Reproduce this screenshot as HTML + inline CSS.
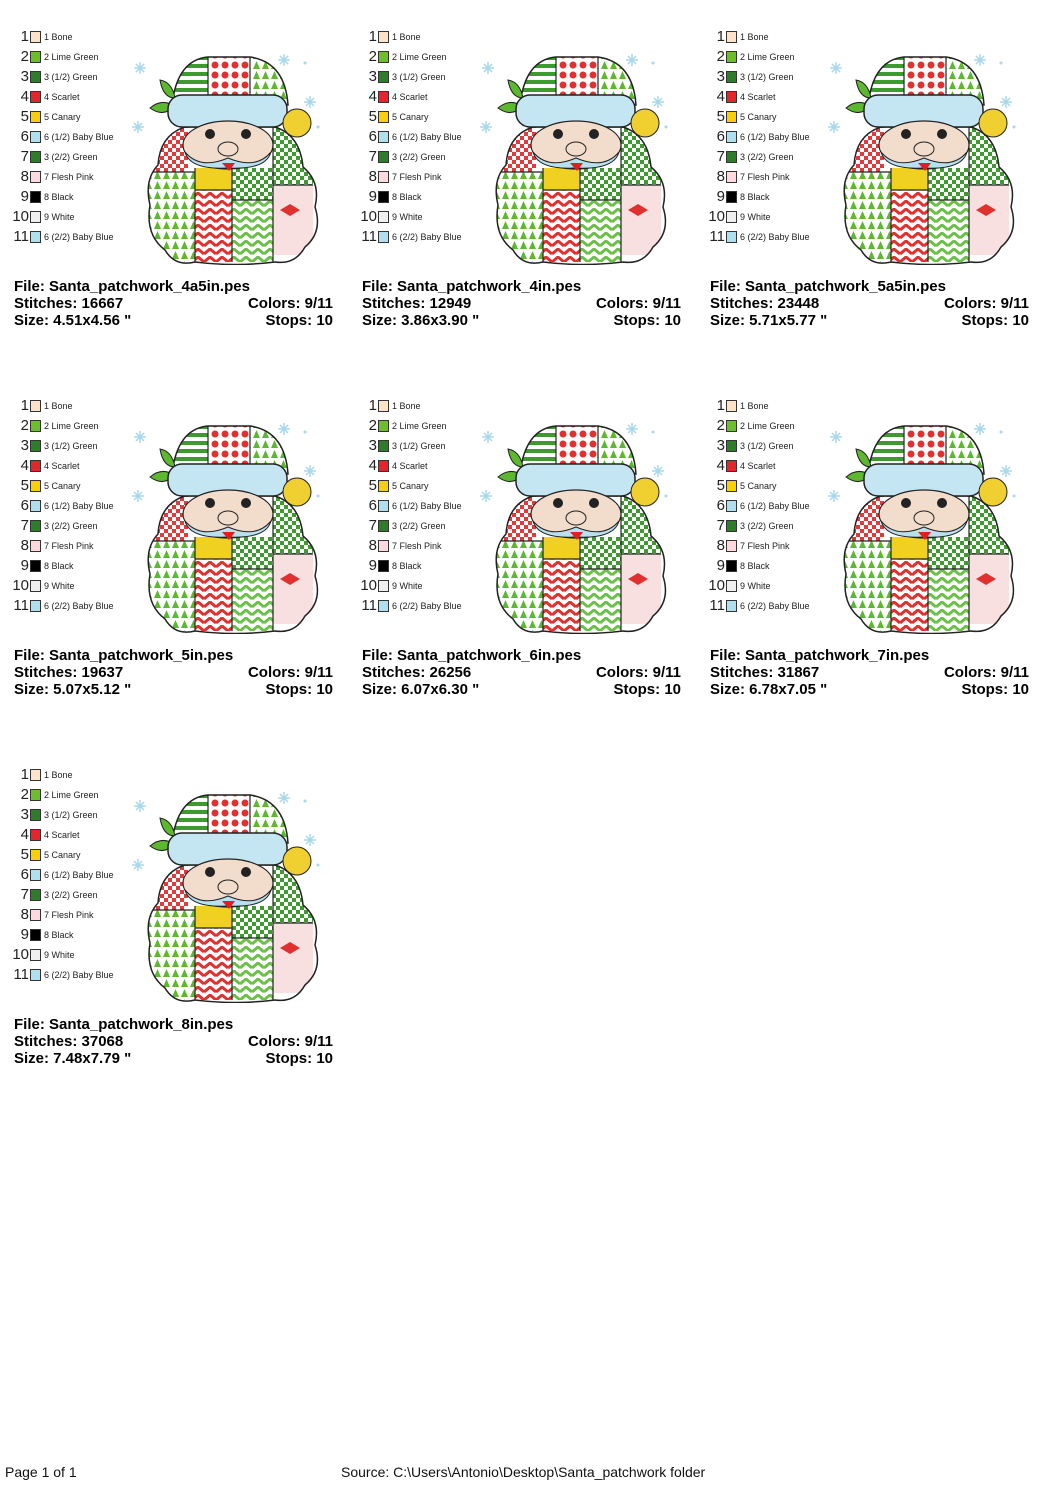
<!DOCTYPE html>
<html><head><meta charset="utf-8">
<style>
html,body{margin:0;padding:0;background:#fff;}
body{width:1050px;height:1485px;position:relative;overflow:hidden;font-family:"Liberation Sans",Arial,sans-serif;}
.blk{position:absolute;width:348px;height:369px;overflow:hidden;}
.row{position:absolute;left:0;width:200px;height:14px;}
.row .n{position:absolute;left:0;top:-3px;width:29px;font-size:15px;color:#222;line-height:20px;text-align:right;}
.row .sw{position:absolute;left:30px;top:1px;width:11px;height:12px;border:1px solid #333;box-sizing:border-box;}
.row .t{position:absolute;left:44px;top:2px;font-size:9px;color:#222;white-space:nowrap;line-height:10px;}
.info{position:absolute;left:14px;width:319px;font-weight:bold;font-size:15px;color:#000;line-height:17px;}
.info .r{position:absolute;right:0;top:0;}
.santa{position:absolute;left:125px;top:25px;}
.foot{position:absolute;top:1464px;font-size:14px;color:#111;}
</style></head><body>
<svg width="0" height="0" style="position:absolute">
<defs>
<pattern id="pc" width="8" height="8" patternUnits="userSpaceOnUse"><rect width="8" height="8" fill="#e23a3a"/><rect width="4" height="4" fill="#fff"/><rect x="4" y="4" width="4" height="4" fill="#fff"/></pattern>
<pattern id="gc" width="8" height="8" patternUnits="userSpaceOnUse"><rect width="8" height="8" fill="#3d9b2e"/><rect width="4" height="4" fill="#fff"/><rect x="4" y="4" width="4" height="4" fill="#fff"/></pattern>
<pattern id="gs" width="8" height="8" patternUnits="userSpaceOnUse"><rect width="8" height="8" fill="#fff"/><rect width="8" height="4" fill="#3d9b2e"/></pattern>
<pattern id="rd" width="10" height="10" patternUnits="userSpaceOnUse"><rect width="10" height="10" fill="#fff"/><circle cx="5" cy="5" r="3.5" fill="#e23030"/></pattern>
<pattern id="gt" width="9" height="10" patternUnits="userSpaceOnUse"><rect width="9" height="10" fill="#fff"/><path d="M4.5 1L8 9H1Z" fill="#5cb82e"/></pattern>
<pattern id="rz" width="12" height="8" patternUnits="userSpaceOnUse"><rect width="12" height="8" fill="#fff"/><path d="M0 6L6 1L12 6" stroke="#e03030" stroke-width="3" fill="none"/></pattern>
<pattern id="gz" width="12" height="8" patternUnits="userSpaceOnUse"><rect width="12" height="8" fill="#fff"/><path d="M0 6L6 1L12 6" stroke="#6cc04a" stroke-width="3" fill="none"/></pattern>
<clipPath id="bc"><path d="M150 205q-6-25 8-40q2-30 27-38h90q25 8 28 40q18 15 12 40q8 25-10 40q-10 18-30 15q-40 5-80 0q-20 5-30-12q-20-15-15-45z"/></clipPath>
<clipPath id="hc"><path d="M172 105q5-45 36-48h42q35 5 38 48z"/></clipPath>
<symbol id="s" viewBox="125 45 210 220">
<g stroke="#a8d8ec" stroke-width="1.5"><path d="M132 127h12M138 121v12M134 123l8 8M142 123l-8 8"/><path d="M134 68h12M140 62v12M136 64l8 8M144 64l-8 8"/><path d="M278 60h12M284 54v12M280 56l8 8M288 56l-8 8"/><path d="M304 102h12M310 96v12M306 98l8 8M314 98l-8 8"/></g>
<circle cx="305" cy="63" r="1.5" fill="#a8d8ec"/><circle cx="318" cy="127" r="1.5" fill="#a8d8ec"/>
<g clip-path="url(#bc)">
<rect x="140" y="120" width="180" height="150" fill="#fff"/>
<rect x="140" y="172" width="55" height="90" fill="url(#gt)"/>
<rect x="150" y="125" width="38" height="47" fill="url(#pc)"/>
<rect x="195" y="168" width="37" height="22" fill="#f0d020"/>
<rect x="195" y="190" width="37" height="72" fill="url(#rz)"/>
<rect x="232" y="168" width="41" height="32" fill="url(#gc)"/>
<rect x="232" y="200" width="41" height="62" fill="url(#gz)"/>
<rect x="273" y="125" width="40" height="60" fill="url(#gc)"/>
<rect x="273" y="185" width="40" height="70" fill="#f8e0e0"/>
<path d="M280 210l10-6l10 6l-10 6z" fill="#e03030"/>
<path d="M195 168V262M232 168V262M273 125V262M152 172H195M195 190H232M232 200H273M273 185H313" stroke="#222" stroke-width="1.2" fill="none"/>
</g>
<path d="M150 205q-6-25 8-40q2-30 27-38h90q25 8 28 40q18 15 12 40q8 25-10 40q-10 18-30 15q-40 5-80 0q-20 5-30-12q-20-15-15-45z" fill="none" stroke="#222" stroke-width="1.5"/>
<g clip-path="url(#hc)">
<rect x="165" y="55" width="43" height="55" fill="url(#gs)"/>
<rect x="208" y="55" width="42" height="42" fill="url(#rd)"/>
<rect x="250" y="55" width="40" height="55" fill="url(#gt)"/>
<path d="M208 55V100M250 55V100M208 97H250" stroke="#222" stroke-width="1.2"/>
</g>
<path d="M172 105q5-45 36-48h42q35 5 38 48z" fill="none" stroke="#222" stroke-width="1.5"/>
<path d="M160 80q12 2 15 18q-12 0-15-18zM150 108q12-10 24-2q-10 12-24 2z" fill="#5cb82e" stroke="#222"/>
<rect x="168" y="95" width="119" height="32" rx="14" fill="#c4e6f2" stroke="#222" stroke-width="1.5"/>
<circle cx="297" cy="123" r="14" fill="#f0d030" stroke="#222"/>
<ellipse cx="228" cy="145" rx="45" ry="24" fill="#f2dccb" stroke="#222" stroke-width="1.2"/>
<circle cx="210" cy="134" r="5" fill="#222"/><circle cx="246" cy="134" r="5" fill="#222"/>
<path d="M185 152q15 18 43 6q28 12 43-6q-5 18-43 16q-38 2-43-16z" fill="#b8e0ee" stroke="#222"/>
<path d="M222 163h13l-6 8z" fill="#e02020"/>
<ellipse cx="228" cy="149" rx="10" ry="7" fill="#f2dccb" stroke="#222"/>
</symbol>
</defs></svg>

<div class="blk" style="left:0;top:20px">
<div class="row" style="top:10px"><span class="n">1</span><span class="sw" style="background:#fde3c8"></span><span class="t">1 Bone</span></div>
<div class="row" style="top:30px"><span class="n">2</span><span class="sw" style="background:#6cbf2a"></span><span class="t">2 Lime Green</span></div>
<div class="row" style="top:50px"><span class="n">3</span><span class="sw" style="background:#2e7d2a"></span><span class="t">3 (1/2) Green</span></div>
<div class="row" style="top:70px"><span class="n">4</span><span class="sw" style="background:#e8232a"></span><span class="t">4 Scarlet</span></div>
<div class="row" style="top:90px"><span class="n">5</span><span class="sw" style="background:#f8cf0a"></span><span class="t">5 Canary</span></div>
<div class="row" style="top:110px"><span class="n">6</span><span class="sw" style="background:#aee0f0"></span><span class="t">6 (1/2) Baby Blue</span></div>
<div class="row" style="top:130px"><span class="n">7</span><span class="sw" style="background:#2e7d2a"></span><span class="t">3 (2/2) Green</span></div>
<div class="row" style="top:150px"><span class="n">8</span><span class="sw" style="background:#fcd9de"></span><span class="t">7 Flesh Pink</span></div>
<div class="row" style="top:170px"><span class="n">9</span><span class="sw" style="background:#000"></span><span class="t">8 Black</span></div>
<div class="row" style="top:190px"><span class="n">10</span><span class="sw" style="background:#f0f0f0"></span><span class="t">9 White</span></div>
<div class="row" style="top:210px"><span class="n">11</span><span class="sw" style="background:#aee0f0"></span><span class="t">6 (2/2) Baby Blue</span></div>
<svg class="santa" width="210" height="220"><use href="#s"/></svg>
<div class="info" style="top:258px">File: Santa_patchwork_4a5in.pes</div>
<div class="info" style="top:275px">Stitches: 16667<span class="r">Colors: 9/11</span></div>
<div class="info" style="top:292px">Size: 4.51x4.56 "<span class="r">Stops: 10</span></div>
</div>

<div class="blk" style="left:348px;top:20px">
<div class="row" style="top:10px"><span class="n">1</span><span class="sw" style="background:#fde3c8"></span><span class="t">1 Bone</span></div>
<div class="row" style="top:30px"><span class="n">2</span><span class="sw" style="background:#6cbf2a"></span><span class="t">2 Lime Green</span></div>
<div class="row" style="top:50px"><span class="n">3</span><span class="sw" style="background:#2e7d2a"></span><span class="t">3 (1/2) Green</span></div>
<div class="row" style="top:70px"><span class="n">4</span><span class="sw" style="background:#e8232a"></span><span class="t">4 Scarlet</span></div>
<div class="row" style="top:90px"><span class="n">5</span><span class="sw" style="background:#f8cf0a"></span><span class="t">5 Canary</span></div>
<div class="row" style="top:110px"><span class="n">6</span><span class="sw" style="background:#aee0f0"></span><span class="t">6 (1/2) Baby Blue</span></div>
<div class="row" style="top:130px"><span class="n">7</span><span class="sw" style="background:#2e7d2a"></span><span class="t">3 (2/2) Green</span></div>
<div class="row" style="top:150px"><span class="n">8</span><span class="sw" style="background:#fcd9de"></span><span class="t">7 Flesh Pink</span></div>
<div class="row" style="top:170px"><span class="n">9</span><span class="sw" style="background:#000"></span><span class="t">8 Black</span></div>
<div class="row" style="top:190px"><span class="n">10</span><span class="sw" style="background:#f0f0f0"></span><span class="t">9 White</span></div>
<div class="row" style="top:210px"><span class="n">11</span><span class="sw" style="background:#aee0f0"></span><span class="t">6 (2/2) Baby Blue</span></div>
<svg class="santa" width="210" height="220"><use href="#s"/></svg>
<div class="info" style="top:258px">File: Santa_patchwork_4in.pes</div>
<div class="info" style="top:275px">Stitches: 12949<span class="r">Colors: 9/11</span></div>
<div class="info" style="top:292px">Size: 3.86x3.90 "<span class="r">Stops: 10</span></div>
</div>

<div class="blk" style="left:696px;top:20px">
<div class="row" style="top:10px"><span class="n">1</span><span class="sw" style="background:#fde3c8"></span><span class="t">1 Bone</span></div>
<div class="row" style="top:30px"><span class="n">2</span><span class="sw" style="background:#6cbf2a"></span><span class="t">2 Lime Green</span></div>
<div class="row" style="top:50px"><span class="n">3</span><span class="sw" style="background:#2e7d2a"></span><span class="t">3 (1/2) Green</span></div>
<div class="row" style="top:70px"><span class="n">4</span><span class="sw" style="background:#e8232a"></span><span class="t">4 Scarlet</span></div>
<div class="row" style="top:90px"><span class="n">5</span><span class="sw" style="background:#f8cf0a"></span><span class="t">5 Canary</span></div>
<div class="row" style="top:110px"><span class="n">6</span><span class="sw" style="background:#aee0f0"></span><span class="t">6 (1/2) Baby Blue</span></div>
<div class="row" style="top:130px"><span class="n">7</span><span class="sw" style="background:#2e7d2a"></span><span class="t">3 (2/2) Green</span></div>
<div class="row" style="top:150px"><span class="n">8</span><span class="sw" style="background:#fcd9de"></span><span class="t">7 Flesh Pink</span></div>
<div class="row" style="top:170px"><span class="n">9</span><span class="sw" style="background:#000"></span><span class="t">8 Black</span></div>
<div class="row" style="top:190px"><span class="n">10</span><span class="sw" style="background:#f0f0f0"></span><span class="t">9 White</span></div>
<div class="row" style="top:210px"><span class="n">11</span><span class="sw" style="background:#aee0f0"></span><span class="t">6 (2/2) Baby Blue</span></div>
<svg class="santa" width="210" height="220"><use href="#s"/></svg>
<div class="info" style="top:258px">File: Santa_patchwork_5a5in.pes</div>
<div class="info" style="top:275px">Stitches: 23448<span class="r">Colors: 9/11</span></div>
<div class="info" style="top:292px">Size: 5.71x5.77 "<span class="r">Stops: 10</span></div>
</div>

<div class="blk" style="left:0;top:389px">
<div class="row" style="top:10px"><span class="n">1</span><span class="sw" style="background:#fde3c8"></span><span class="t">1 Bone</span></div>
<div class="row" style="top:30px"><span class="n">2</span><span class="sw" style="background:#6cbf2a"></span><span class="t">2 Lime Green</span></div>
<div class="row" style="top:50px"><span class="n">3</span><span class="sw" style="background:#2e7d2a"></span><span class="t">3 (1/2) Green</span></div>
<div class="row" style="top:70px"><span class="n">4</span><span class="sw" style="background:#e8232a"></span><span class="t">4 Scarlet</span></div>
<div class="row" style="top:90px"><span class="n">5</span><span class="sw" style="background:#f8cf0a"></span><span class="t">5 Canary</span></div>
<div class="row" style="top:110px"><span class="n">6</span><span class="sw" style="background:#aee0f0"></span><span class="t">6 (1/2) Baby Blue</span></div>
<div class="row" style="top:130px"><span class="n">7</span><span class="sw" style="background:#2e7d2a"></span><span class="t">3 (2/2) Green</span></div>
<div class="row" style="top:150px"><span class="n">8</span><span class="sw" style="background:#fcd9de"></span><span class="t">7 Flesh Pink</span></div>
<div class="row" style="top:170px"><span class="n">9</span><span class="sw" style="background:#000"></span><span class="t">8 Black</span></div>
<div class="row" style="top:190px"><span class="n">10</span><span class="sw" style="background:#f0f0f0"></span><span class="t">9 White</span></div>
<div class="row" style="top:210px"><span class="n">11</span><span class="sw" style="background:#aee0f0"></span><span class="t">6 (2/2) Baby Blue</span></div>
<svg class="santa" width="210" height="220"><use href="#s"/></svg>
<div class="info" style="top:258px">File: Santa_patchwork_5in.pes</div>
<div class="info" style="top:275px">Stitches: 19637<span class="r">Colors: 9/11</span></div>
<div class="info" style="top:292px">Size: 5.07x5.12 "<span class="r">Stops: 10</span></div>
</div>

<div class="blk" style="left:348px;top:389px">
<div class="row" style="top:10px"><span class="n">1</span><span class="sw" style="background:#fde3c8"></span><span class="t">1 Bone</span></div>
<div class="row" style="top:30px"><span class="n">2</span><span class="sw" style="background:#6cbf2a"></span><span class="t">2 Lime Green</span></div>
<div class="row" style="top:50px"><span class="n">3</span><span class="sw" style="background:#2e7d2a"></span><span class="t">3 (1/2) Green</span></div>
<div class="row" style="top:70px"><span class="n">4</span><span class="sw" style="background:#e8232a"></span><span class="t">4 Scarlet</span></div>
<div class="row" style="top:90px"><span class="n">5</span><span class="sw" style="background:#f8cf0a"></span><span class="t">5 Canary</span></div>
<div class="row" style="top:110px"><span class="n">6</span><span class="sw" style="background:#aee0f0"></span><span class="t">6 (1/2) Baby Blue</span></div>
<div class="row" style="top:130px"><span class="n">7</span><span class="sw" style="background:#2e7d2a"></span><span class="t">3 (2/2) Green</span></div>
<div class="row" style="top:150px"><span class="n">8</span><span class="sw" style="background:#fcd9de"></span><span class="t">7 Flesh Pink</span></div>
<div class="row" style="top:170px"><span class="n">9</span><span class="sw" style="background:#000"></span><span class="t">8 Black</span></div>
<div class="row" style="top:190px"><span class="n">10</span><span class="sw" style="background:#f0f0f0"></span><span class="t">9 White</span></div>
<div class="row" style="top:210px"><span class="n">11</span><span class="sw" style="background:#aee0f0"></span><span class="t">6 (2/2) Baby Blue</span></div>
<svg class="santa" width="210" height="220"><use href="#s"/></svg>
<div class="info" style="top:258px">File: Santa_patchwork_6in.pes</div>
<div class="info" style="top:275px">Stitches: 26256<span class="r">Colors: 9/11</span></div>
<div class="info" style="top:292px">Size: 6.07x6.30 "<span class="r">Stops: 10</span></div>
</div>

<div class="blk" style="left:696px;top:389px">
<div class="row" style="top:10px"><span class="n">1</span><span class="sw" style="background:#fde3c8"></span><span class="t">1 Bone</span></div>
<div class="row" style="top:30px"><span class="n">2</span><span class="sw" style="background:#6cbf2a"></span><span class="t">2 Lime Green</span></div>
<div class="row" style="top:50px"><span class="n">3</span><span class="sw" style="background:#2e7d2a"></span><span class="t">3 (1/2) Green</span></div>
<div class="row" style="top:70px"><span class="n">4</span><span class="sw" style="background:#e8232a"></span><span class="t">4 Scarlet</span></div>
<div class="row" style="top:90px"><span class="n">5</span><span class="sw" style="background:#f8cf0a"></span><span class="t">5 Canary</span></div>
<div class="row" style="top:110px"><span class="n">6</span><span class="sw" style="background:#aee0f0"></span><span class="t">6 (1/2) Baby Blue</span></div>
<div class="row" style="top:130px"><span class="n">7</span><span class="sw" style="background:#2e7d2a"></span><span class="t">3 (2/2) Green</span></div>
<div class="row" style="top:150px"><span class="n">8</span><span class="sw" style="background:#fcd9de"></span><span class="t">7 Flesh Pink</span></div>
<div class="row" style="top:170px"><span class="n">9</span><span class="sw" style="background:#000"></span><span class="t">8 Black</span></div>
<div class="row" style="top:190px"><span class="n">10</span><span class="sw" style="background:#f0f0f0"></span><span class="t">9 White</span></div>
<div class="row" style="top:210px"><span class="n">11</span><span class="sw" style="background:#aee0f0"></span><span class="t">6 (2/2) Baby Blue</span></div>
<svg class="santa" width="210" height="220"><use href="#s"/></svg>
<div class="info" style="top:258px">File: Santa_patchwork_7in.pes</div>
<div class="info" style="top:275px">Stitches: 31867<span class="r">Colors: 9/11</span></div>
<div class="info" style="top:292px">Size: 6.78x7.05 "<span class="r">Stops: 10</span></div>
</div>

<div class="blk" style="left:0;top:758px">
<div class="row" style="top:10px"><span class="n">1</span><span class="sw" style="background:#fde3c8"></span><span class="t">1 Bone</span></div>
<div class="row" style="top:30px"><span class="n">2</span><span class="sw" style="background:#6cbf2a"></span><span class="t">2 Lime Green</span></div>
<div class="row" style="top:50px"><span class="n">3</span><span class="sw" style="background:#2e7d2a"></span><span class="t">3 (1/2) Green</span></div>
<div class="row" style="top:70px"><span class="n">4</span><span class="sw" style="background:#e8232a"></span><span class="t">4 Scarlet</span></div>
<div class="row" style="top:90px"><span class="n">5</span><span class="sw" style="background:#f8cf0a"></span><span class="t">5 Canary</span></div>
<div class="row" style="top:110px"><span class="n">6</span><span class="sw" style="background:#aee0f0"></span><span class="t">6 (1/2) Baby Blue</span></div>
<div class="row" style="top:130px"><span class="n">7</span><span class="sw" style="background:#2e7d2a"></span><span class="t">3 (2/2) Green</span></div>
<div class="row" style="top:150px"><span class="n">8</span><span class="sw" style="background:#fcd9de"></span><span class="t">7 Flesh Pink</span></div>
<div class="row" style="top:170px"><span class="n">9</span><span class="sw" style="background:#000"></span><span class="t">8 Black</span></div>
<div class="row" style="top:190px"><span class="n">10</span><span class="sw" style="background:#f0f0f0"></span><span class="t">9 White</span></div>
<div class="row" style="top:210px"><span class="n">11</span><span class="sw" style="background:#aee0f0"></span><span class="t">6 (2/2) Baby Blue</span></div>
<svg class="santa" width="210" height="220"><use href="#s"/></svg>
<div class="info" style="top:258px">File: Santa_patchwork_8in.pes</div>
<div class="info" style="top:275px">Stitches: 37068<span class="r">Colors: 9/11</span></div>
<div class="info" style="top:292px">Size: 7.48x7.79 "<span class="r">Stops: 10</span></div>
</div>

<div class="foot" style="left:5px">Page 1 of 1</div>
<div class="foot" style="left:341px">Source: C:\Users\Antonio\Desktop\Santa_patchwork folder</div>
</body></html>
